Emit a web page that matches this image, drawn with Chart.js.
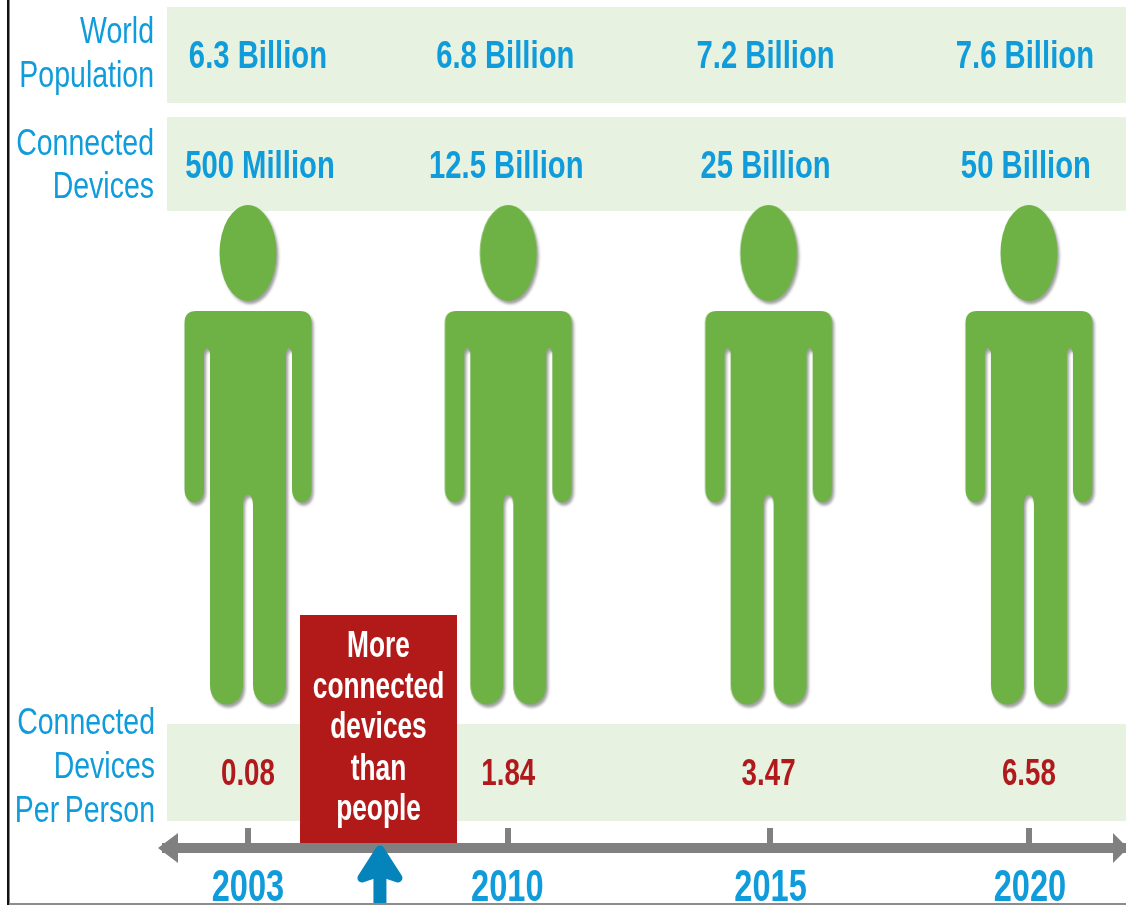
<!DOCTYPE html>
<html>
<head>
<meta charset="utf-8">
<title>Connected devices per person</title>
<script src="https://cdn.jsdelivr.net/npm/chart.js@4/dist/chart.umd.min.js"></script>
<style>
html,body{margin:0;padding:0;background:#fff;overflow:hidden}
canvas{display:block}
</style>
</head>
<body>
<canvas id="chart" width="1126" height="905"></canvas>
<script>
// Figures shown in the table rows, one entry per year
const years = ["2003", "2010", "2015", "2020"];
const populationBillions = [6.3, 6.8, 7.2, 7.6];
const connectedDevices = ["500 Million", "12.5 Billion", "25 Billion", "50 Billion"];
const devicesPerPerson = [0.08, 1.84, 3.47, 6.58];

// Row captions in the left margin
const populationCaption = ["World", "Population"];
const devicesCaption = ["Connected", "Devices"];
const perPersonCaption = ["Connected", "Devices", "Per Person"];
const calloutLines = ["More", "connected", "devices", "than", "people"];

// Small horizontal corrections of the row text relative to each year's tick
const populationNudge = [10, -3, -3, -4];
const devicesNudge = [12, -2, -3, -3];
const yearNudge = [0, -1, 2, 1];

// Vertical layout, in units of the y scale (one unit is one pixel)
const bands = [[7, 103], [117, 211], [724, 821]];
const PERSON_Y = 455;

const FONT = '"Liberation Sans", Arial, sans-serif';
const BLUE = "#109cda";
const RED = "#b01a1c";
const GREY = "#808080";
const GREEN = "#6eb245";

// A standing figure rendered once and reused as the point style
function personGlyph() {
  const c = document.createElement("canvas");
  c.width = 144; c.height = 520;
  const g = c.getContext("2d");
  g.translate(72, 10);
  g.shadowColor = "rgba(0,0,0,0.38)";
  g.shadowOffsetX = 2; g.shadowOffsetY = 3; g.shadowBlur = 3;
  g.fillStyle = GREEN;
  g.beginPath();
  g.ellipse(0, 48, 28.5, 48, 0, 0, Math.PI * 2);
  g.fill();
  g.beginPath();
  g.moveTo(-52, 106);
  g.lineTo(52, 106);
  g.quadraticCurveTo(63.5, 106, 63.5, 118);
  g.lineTo(63.5, 284);
  g.bezierCurveTo(63.5, 302, 44, 302, 44, 284);
  g.lineTo(44, 148);
  g.quadraticCurveTo(41, 138, 38, 148);
  g.lineTo(38, 480);
  g.bezierCurveTo(38, 506, 5, 506, 5, 480);
  g.lineTo(5, 300);
  g.bezierCurveTo(5, 286, -5, 286, -5, 300);
  g.lineTo(-5, 480);
  g.bezierCurveTo(-5, 506, -38, 506, -38, 480);
  g.lineTo(-38, 148);
  g.quadraticCurveTo(-41, 138, -44, 148);
  g.lineTo(-44, 284);
  g.bezierCurveTo(-44, 302, -63.5, 302, -63.5, 284);
  g.lineTo(-63.5, 118);
  g.quadraticCurveTo(-63.5, 106, -52, 106);
  g.closePath();
  g.fill();
  return c;
}

// Draws one line of text squeezed horizontally about its anchor
function narrowText(ctx, text, x, y, squeeze) {
  ctx.save();
  ctx.translate(x, y);
  ctx.scale(squeeze, 1);
  ctx.fillText(text, 0, 0);
  ctx.restore();
}

const tablePlugin = {
  id: "table",
  beforeDraw(chart) {
    const { ctx, scales: { y }, chartArea: a } = chart;
    ctx.save();
    ctx.fillStyle = "#e8f2e1";
    bands.forEach(([t, b]) => {
      const top = y.getPixelForValue(t);
      ctx.fillRect(a.left, top, a.right - a.left, y.getPixelForValue(b) - top);
    });
    ctx.restore();
  },
  afterDraw(chart) {
    const { ctx, scales: { x, y } } = chart;
    const axisY = y.getPixelForValue(848);
    ctx.save();

    // Row captions
    ctx.fillStyle = BLUE;
    ctx.textAlign = "right";
    ctx.textBaseline = "middle";
    ctx.font = "37px " + FONT;
    ctx.wordSpacing = "-3px";
    const caption = (lines, right, ys) => lines.forEach((t, i) => narrowText(ctx, t, right, ys[i], 0.77));
    caption(populationCaption, 154, [33, 77]);
    caption(devicesCaption, 154, [145, 188]);
    caption(perPersonCaption, 155, [724, 768, 812]);
    ctx.wordSpacing = "0px";

    // Row values
    ctx.textAlign = "center";
    ctx.font = "bold 38px " + FONT;
    years.forEach((_, i) => {
      const px = x.getPixelForValue(i);
      narrowText(ctx, populationBillions[i].toFixed(1) + " Billion", px + populationNudge[i], 58, 0.77);
      narrowText(ctx, connectedDevices[i], px + devicesNudge[i], 168, 0.77);
    });
    ctx.fillStyle = RED;
    ctx.font = "bold 36px " + FONT;
    years.forEach((_, i) => {
      narrowText(ctx, devicesPerPerson[i].toFixed(2), x.getPixelForValue(i), 775, 0.77);
    });

    // Tick stubs above the timeline, year labels below it
    ctx.fillStyle = GREY;
    years.forEach((_, i) => {
      ctx.fillRect(Math.round(x.getPixelForValue(i)) - 3 + (i === 2 ? 1 : 0), axisY - 20, 6, 20);
    });
    ctx.fillStyle = BLUE;
    ctx.font = "bold 44px " + FONT;
    x.ticks.forEach((t, i) => narrowText(ctx, t.label, x.getPixelForValue(t.value) + yearNudge[i], 889, 0.74));

    // Callout box spanning the stretch between the first two ticks
    const boxLeft = x.getPixelForValue(0.2), boxRight = x.getPixelForValue(0.803);
    ctx.fillStyle = "#b11a18";
    ctx.fillRect(boxLeft, y.getPixelForValue(615), boxRight - boxLeft, y.getPixelForValue(843) - y.getPixelForValue(615));
    ctx.fillStyle = "#ffffff";
    ctx.font = "bold 36px " + FONT;
    const cx = (boxLeft + boxRight) / 2;
    calloutLines.forEach((t, i) => narrowText(ctx, t, cx, [647, 688, 728, 770, 810][i], 0.73));

    // Timeline arrowheads
    ctx.fillStyle = GREY;
    ctx.beginPath();
    ctx.moveTo(158, axisY); ctx.lineTo(178, axisY - 15); ctx.lineTo(178, axisY + 15); ctx.closePath();
    ctx.moveTo(1128, axisY); ctx.lineTo(1113, axisY - 15); ctx.lineTo(1113, axisY + 15); ctx.closePath();
    ctx.fill();

    // Marker arrow rising to the timeline at the crossover point
    const ax = x.getPixelForValue(0.507);
    ctx.fillStyle = "#0584bc";
    ctx.strokeStyle = "#0584bc";
    ctx.lineWidth = 9;
    ctx.lineCap = "round";
    ctx.lineJoin = "round";
    ctx.fillRect(ax - 6.5, 865, 13, 40);
    ctx.beginPath();
    ctx.moveTo(ax, 850); ctx.lineTo(ax + 18, 878); ctx.lineTo(ax + 6, 874);
    ctx.lineTo(ax - 6, 874); ctx.lineTo(ax - 18, 878); ctx.closePath();
    ctx.fill();
    ctx.stroke();

    // Page frame: left rule and bottom hairline
    ctx.fillStyle = "#111111";
    ctx.fillRect(7, 0, 2.5, 905);
    ctx.fillStyle = "#8c8c8c";
    ctx.fillRect(9, 903, 1117, 2);
    ctx.restore();
  }
};

new Chart(document.getElementById("chart"), {
  type: "scatter",
  data: {
    datasets: [{
      label: "People",
      data: years.map((_, i) => ({ x: i, y: PERSON_Y })),
      pointStyle: personGlyph(),
      pointRadius: 1,
      pointHoverRadius: 1,
      clip: false
    }]
  },
  options: {
    responsive: false,
    animation: false,
    events: [],
    layout: { autoPadding: false, padding: { left: 167, right: 0, top: 0, bottom: 0 } },
    plugins: { legend: { display: false }, tooltip: { enabled: false } },
    scales: {
      x: {
        type: "linear",
        min: -0.311,
        max: 3.373,
        afterBuildTicks(s) { s.ticks = years.map((_, i) => ({ value: i })); },
        afterFit(s) { s.height = 57; s.paddingLeft = 0; s.paddingRight = 0; },
        grid: { display: false, drawTicks: false },
        border: { display: true, color: GREY, width: 10 },
        ticks: {
          display: false,
          autoSkip: false,
          maxRotation: 0,
          callback(v) { return years[v]; }
        }
      },
      y: { display: false, min: 0, max: 848, reverse: true }
    }
  },
  plugins: [tablePlugin]
});
</script>
</body>
</html>
